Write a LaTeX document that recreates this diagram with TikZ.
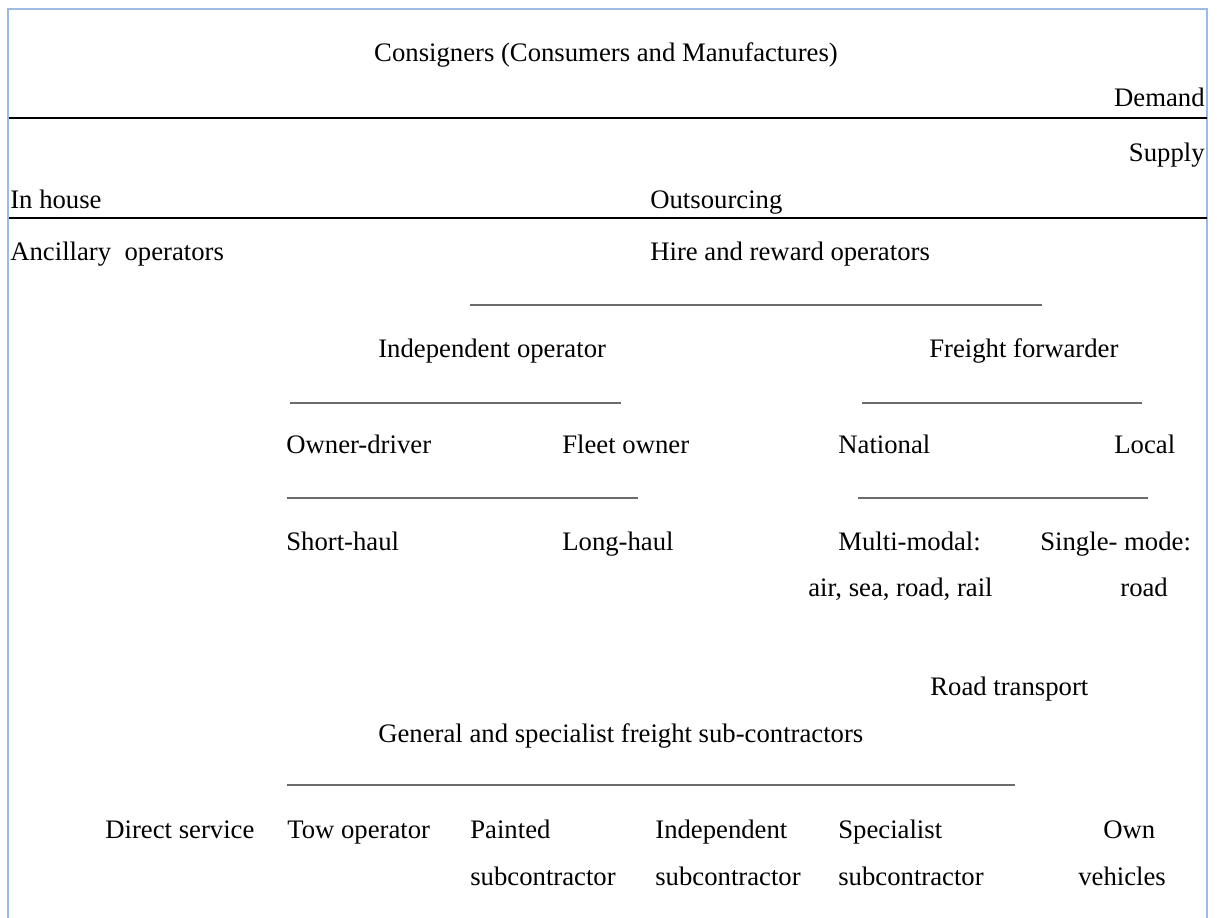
\documentclass[tikz,border=0pt]{standalone}
\usepackage{fontspec}
\setmainfont{Liberation Serif}
\definecolor{frameblue}{RGB}{155,187,227}
\begin{document}
\begin{tikzpicture}[x=0.02cm, y=-0.02cm,
    lbl/.style={inner sep=0pt, anchor=base west, font=\fontsize{15.2}{18}\selectfont},
    rlbl/.style={lbl, anchor=base east},
    clbl/.style={lbl, anchor=base},
    rule/.style={draw=gray!85!black, line width=0.8pt}]
\useasboundingbox (0,0) rectangle (1217,918);

% frame, open at the bottom
\draw[frameblue, line width=1.2pt] (8,918)--(8,9)--(1207,9)--(1207,918);

% demand / supply split
\node[clbl] (consig) at (606,62) {Consigners (Consumers and Manufactures)};
\node[rlbl] (demand) at (1205,107) {Demand};
\draw[line width=1.7pt] (9,118)--(1207,118);
\node[rlbl] (supply) at (1205,162) {Supply};

\node[lbl] (inhouse) at (10,209) {In house};
\node[lbl] (outsrc) at (650,209) {Outsourcing};
\draw[line width=0.6pt] (9,218)--(1207,218);

\node[lbl] (ancil) at (10,261) {Ancillary~ operators};
\node[lbl] (hire) at (650,261) {Hire and reward operators};

\node[lbl] (indep) at (378,358) {Independent operator};
\node[lbl] (forward) at (929,358) {Freight forwarder};

\node[lbl] (owner) at (286,454) {Owner-driver};
\node[lbl] (fleet) at (562,454) {Fleet owner};
\node[lbl] (national) at (838,454) {National};
\node[lbl] (local) at (1114,454) {Local};

\node[lbl] (short) at (286,551) {Short-haul};
\node[lbl] (long) at (562,551) {Long-haul};
\node[lbl] (multi) at (838,551) {Multi-modal:};
\node[lbl] (single) at (1040,551) {Single- mode:};
\node[lbl] (modes) at (808,596) {air, sea, road, rail};
\node[lbl] (road) at (1120,596) {road};

\node[lbl] (roadtr) at (930,695) {Road transport};
\node[lbl] (general) at (378,742) {General and specialist freight sub-contractors};

\node[lbl] (direct) at (105,838) {Direct service};
\node[lbl] (tow) at (287,838) {Tow operator};
\node[lbl] (painted) at (470,838) {Painted};
\node[lbl] (indsub) at (655,838) {Independent};
\node[lbl] (special) at (838,838) {Specialist};
\node[lbl] (own) at (1103,838) {Own};
\foreach \x/\n in {470/a,655/b,838/c}
{
    \node[lbl] (sub\n) at (\x,885) {subcontractor};
}
\node[lbl] (vehic) at (1078,885) {vehicles};

% underscore rules
\foreach \xa/\xb/\yy in {470/1042/305, 290/621/403, 862/1142/403, 287/638/498, 858/1148/498, 287/1015/785}
{
    \draw[rule] (\xa,\yy)--(\xb,\yy);
}

\end{tikzpicture}
\end{document}
